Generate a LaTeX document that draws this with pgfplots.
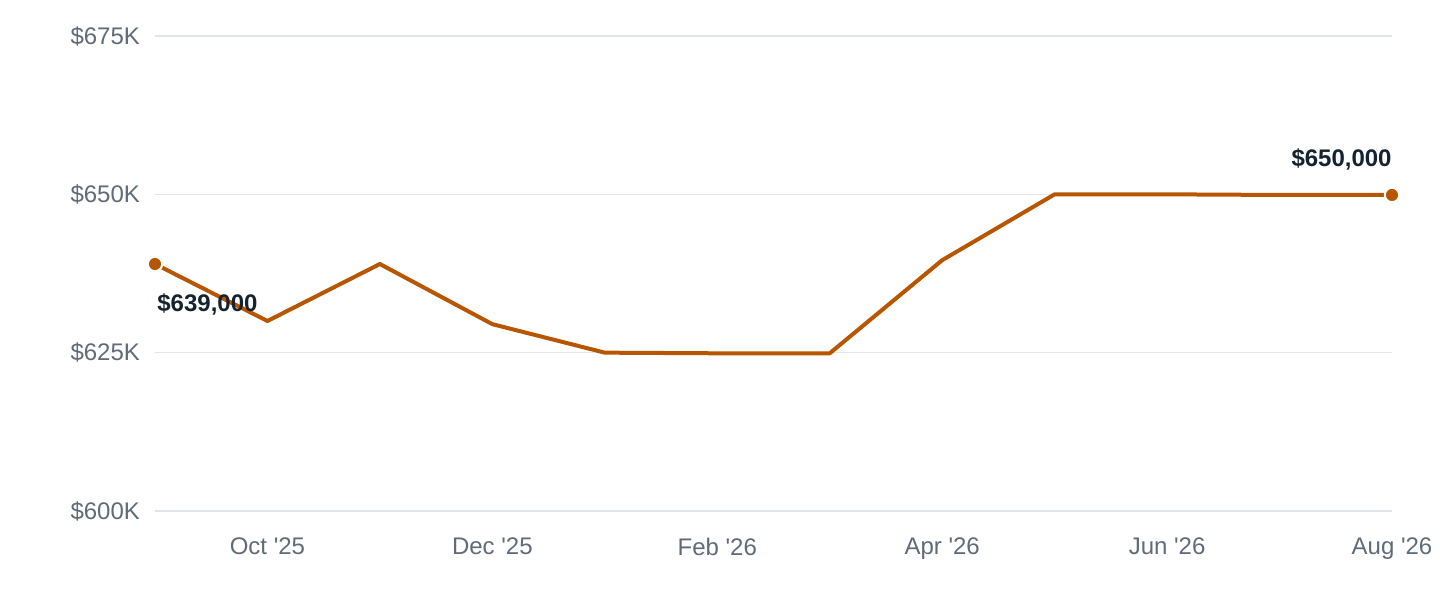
\documentclass[border=0pt]{standalone}
\usepackage{fontspec}
\setmainfont{Liberation Sans}
\usepackage{pgfplots}
\pgfplotsset{compat=1.18}

\definecolor{linec}{HTML}{B85600}
\definecolor{tickc}{HTML}{5F6B78}
\definecolor{gridc}{HTML}{E1E4E8}
\definecolor{annc}{HTML}{14232F}

\newcommand{\yr}[1]{\textquotesingle#1}

\begin{document}
\begin{tikzpicture}[x=0.5pt,y=0.5pt]
  \begin{axis}[
      at={(0,0)}, anchor=origin,
      scale only axis,
      width=618.5pt, height=237.5pt,
      xmin=0, xmax=11,
      ymin=600000, ymax=675000,
      axis x line=bottom, axis y line=left,
      axis line style={draw=none, -},
      scaled y ticks=false,
      xtick={1,3,5,7,9,11},
      xticklabels={Oct \yr{25}, Dec \yr{25}, Feb \yr{26}, Apr \yr{26}, Jun \yr{26}, Aug \yr{26}},
      ytick={600000,625000,650000,675000},
      yticklabels={\$600K, \$625K, \$650K, \$675K},
      ymajorgrids,
      grid style={gridc, line width=0.7pt},
      major tick length=0pt,
      tick label style={font=\fontsize{12}{14}\selectfont, text=tickc},
      /pgf/number format/assume math mode=true,
      xticklabel style={yshift=-10pt},
      yticklabel style={xshift=-4pt},
      clip=false,
    ]
    \addplot[linec, line width=2pt, line join=round] coordinates {
      (0,639000) (1,630000) (2,639000) (3,629500) (4,625000) (5,624900)
      (6,624900) (7,639600) (8,650000) (9,650000) (10,649900) (11,649900)
    };
    \addplot[only marks, mark=*, mark size=3.6pt,
             mark options={fill=linec, draw=white, line width=1pt}] coordinates {
      (0,639000) (11,649900)
    };
    \node[anchor=north west, font=\bfseries\fontsize{12}{14}\selectfont, text=annc,
          inner sep=0pt] at (axis cs:0,639000) [yshift=-14.5pt, xshift=1pt] {\$639,000};
    \node[anchor=south east, font=\bfseries\fontsize{12}{14}\selectfont, text=annc,
          inner sep=0pt] at (axis cs:11,649900) [yshift=12pt] {\$650,000};
  \end{axis}
  \pgfresetboundingbox
  \path[use as bounding box] (-155,-89) rectangle (1285,511);
\end{tikzpicture}
\end{document}
